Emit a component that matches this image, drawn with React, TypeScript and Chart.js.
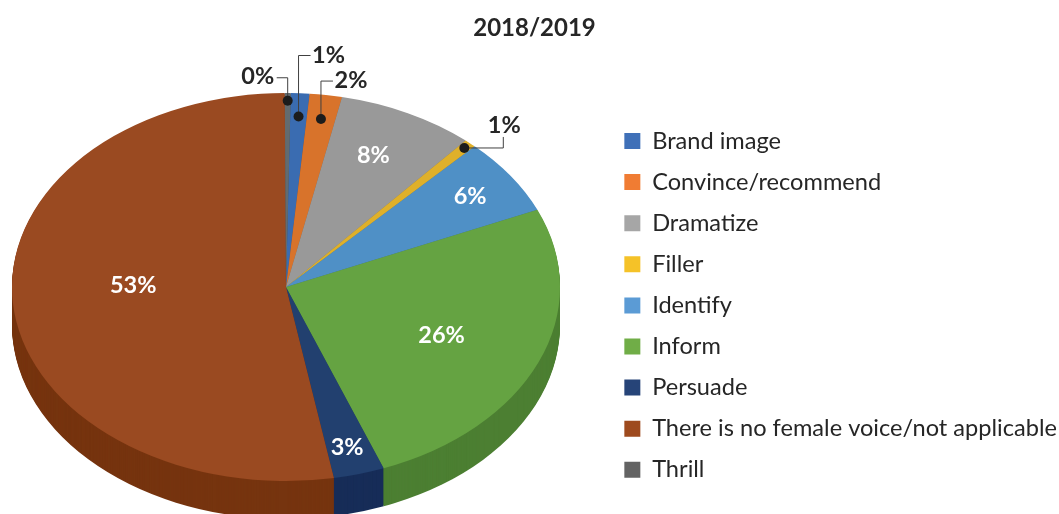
import React, { useEffect, useRef } from "react";
import { Chart, registerables } from "chart.js";

Chart.register(...registerables);

const chartTitle = "2018/2019";
const categories = ["Brand image", "Convince/recommend", "Dramatize", "Filler", "Identify", "Inform", "Persuade", "There is no female voice/not applicable", "Thrill"];
const shares = [1.1, 1.9, 8.1, 0.7, 6.4, 25.7, 3.0, 52.7, 0.35];
const shareLabels = ["1%", "2%", "8%", "1%", "6%", "26%", "3%", "53%", "0%"];
const legendColors = ["#3f70b8", "#f07c33", "#a6a6a6", "#f5c228", "#5b9bd5", "#70ad47", "#264478", "#9e4a1e", "#636363"];
const topColors = ["#3a6cb1", "#d8732b", "#999999", "#dfb02a", "#4f90c6", "#65a342", "#22406f", "#9a4a21", "#636b6f"];
const sideColors = ["#2a4f85", "#a5561f", "#737373", "#a8841f", "#3b6d96", "#4c7f32", "#172d58", "#76340f", "#4a5053"];

// projection of the flat pie on the page
const PIE = { cx: 286, cy: 287, rx: 274, ry: 194, depth: 38 };

// labels inside the slices: radial fraction and small nudge, by slice index
const insideLabels: Record<number, { f: number; dx: number; dy: number }> = {
  2: { f: 0.75, dx: -4, dy: -1 },
  4: { f: 0.82, dx: 0, dy: 1 },
  5: { f: 0.62, dx: -1, dy: 2 },
  6: { f: 0.85, dx: -1, dy: 2 },
  7: { f: 0.56, dx: 0, dy: -11 },
};
// called-out labels: dot position on the slice, elbow path and label offset from the dot
const callouts: Record<number, { f: number; path: number[][]; label: number[] }> = {
  8: { f: 0.96, path: [[0, -23], [-11, -23]], label: [-30, -24] },
  0: { f: 0.88, path: [[0, -61], [12, -61]], label: [30, -61] },
  1: { f: 0.875, path: [[0, -38], [12, -38]], label: [30, -39] },
  3: { f: 0.968, path: [[39, 0], [39, -11]], label: [40, -23] },
};

const FONT = "Lato, Carlito, sans-serif";

const pie3d = {
  id: "pie3d",
  beforeDatasetsDraw(chart: any) {
    const ctx = chart.ctx;
    const arcs = chart.getDatasetMeta(0).data;
    const R = arcs[0].outerRadius;
    const x0 = arcs[0].x;
    const y0 = arcs[0].y;
    for (let d = PIE.depth; d >= 1; d--) {
      ctx.save();
      ctx.translate(PIE.cx, PIE.cy + d);
      ctx.scale(PIE.rx / R, PIE.ry / R);
      ctx.translate(-x0, -y0);
      arcs.forEach((a: any, i: number) => {
        ctx.beginPath();
        ctx.moveTo(a.x, a.y);
        ctx.arc(a.x, a.y, a.outerRadius, a.startAngle, a.endAngle);
        ctx.closePath();
        ctx.fillStyle = sideColors[i];
        ctx.fill();
      });
      ctx.restore();
    }
    ctx.save();
    ctx.translate(PIE.cx, PIE.cy);
    ctx.scale(PIE.rx / R, PIE.ry / R);
    ctx.translate(-x0, -y0);
  },
  afterDatasetsDraw(chart: any) {
    const ctx = chart.ctx;
    ctx.restore();
    const arcs = chart.getDatasetMeta(0).data;
    const at = (a: any, f: number) => {
      const m = (a.startAngle + a.endAngle) / 2;
      return [PIE.cx + Math.cos(m) * f * PIE.rx, PIE.cy + Math.sin(m) * f * PIE.ry];
    };
    ctx.save();
    ctx.textAlign = "center";
    ctx.textBaseline = "middle";
    ctx.font = `bold 23.5px ${FONT}`;
    ctx.fillStyle = "#ffffff";
    Object.keys(insideLabels).forEach((k) => {
      const i = Number(k);
      const s = insideLabels[i];
      const [x, y] = at(arcs[i], s.f);
      ctx.fillText(shareLabels[i], x + s.dx, y + s.dy);
    });
    Object.keys(callouts).forEach((k) => {
      const i = Number(k);
      const s = callouts[i];
      const [x, y] = at(arcs[i], s.f);
      ctx.strokeStyle = "#404040";
      ctx.lineWidth = 1;
      ctx.beginPath();
      ctx.moveTo(x, y);
      s.path.forEach((p) => ctx.lineTo(x + p[0], y + p[1]));
      ctx.stroke();
      ctx.fillStyle = "#1c1c1c";
      ctx.beginPath();
      ctx.arc(x, y, 5, 0, Math.PI * 2);
      ctx.fill();
      ctx.fillStyle = "#262626";
      ctx.fillText(shareLabels[i], x + s.label[0], y + s.label[1]);
    });
    ctx.restore();
  },
};

export default function App() {
  const ref = useRef<HTMLCanvasElement>(null);
  useEffect(() => {
    if (!ref.current) return;
    const chart = new Chart(ref.current, {
      type: "pie",
      data: {
        labels: categories,
        datasets: [{ data: shares, backgroundColor: topColors, borderWidth: 0, clip: false } as any],
      },
      options: {
        responsive: false,
        animation: false,
        rotation: 1,
        layout: { padding: { left: 2, right: -8, top: 0, bottom: 0 } },
        plugins: {
          tooltip: { enabled: false },
          title: {
            display: true,
            text: chartTitle,
            color: "#262626",
            font: { family: FONT, size: 24, weight: "bold" },
            padding: { top: 14, bottom: 54 },
          },
          legend: {
            position: "right",
            fullSize: false,
            labels: {
              boxWidth: 16,
              boxHeight: 16,
              padding: 17.5,
              color: "#262626",
              font: { family: FONT, size: 23.6 },
              generateLabels: () =>
                categories.map((c, i) => ({
                  text: c,
                  fillStyle: legendColors[i],
                  strokeStyle: legendColors[i],
                  lineWidth: 0,
                  hidden: false,
                  index: i,
                  fontColor: "#262626",
                })),
            },
          },
        },
      },
      plugins: [pie3d],
    } as any);
    return () => chart.destroy();
  }, []);
  return <canvas ref={ref} width={1059} height={514} style={{ position: "fixed", left: 0, top: 0, display: "block" }} />;
}
